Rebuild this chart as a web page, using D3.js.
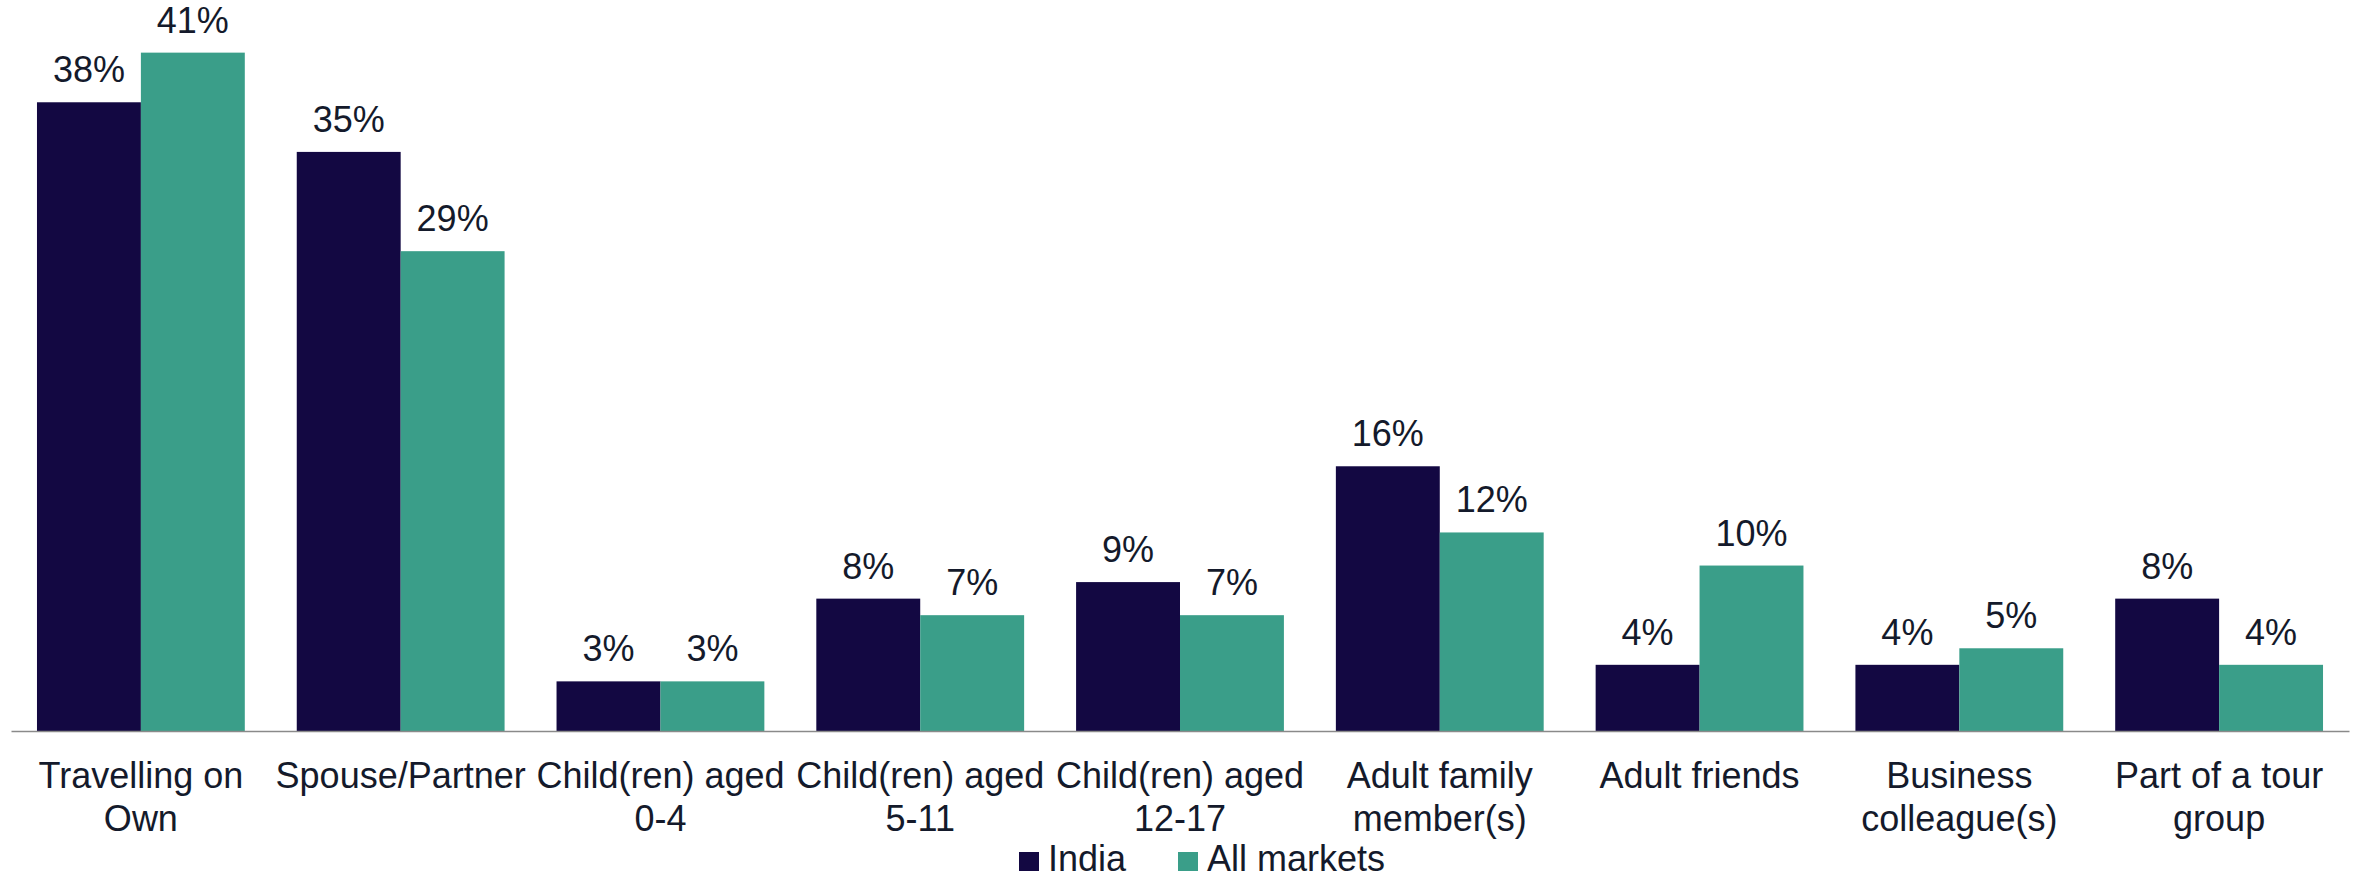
<!DOCTYPE html>
<html>
<head>
<meta charset="utf-8">
<script src="https://cdn.jsdelivr.net/npm/d3@7"></script>
<style>
  html, body { margin: 0; padding: 0; background: #ffffff; }
  svg { display: block; }
  text { font-family: "Liberation Sans", Arial, sans-serif; }
</style>
</head>
<body>
<div id="chart"></div>
<script>
// Who respondents travel with: India vs. all markets (share of respondents, %)
const categories = [
  "Travelling on\nOwn",
  "Spouse/Partner",
  "Child(ren) aged\n0-4",
  "Child(ren) aged\n5-11",
  "Child(ren) aged\n12-17",
  "Adult family\nmember(s)",
  "Adult friends",
  "Business\ncolleague(s)",
  "Part of a tour\ngroup"
];
const seriesNames = ["India", "All markets"];
const indiaValues = [38, 35, 3, 8, 9, 16, 4, 4, 8];
const allMarketsValues = [41, 29, 3, 7, 7, 12, 10, 5, 4];
const seriesColors = ["#130842", "#3a9e89"];

const W = 2359, H = 879;
const baseY = 731;
const fontSize = 36;
const textColor = "#141a2b";

const svg = d3.select("#chart").append("svg")
  .attr("width", W).attr("height", H)
  .attr("viewBox", `0 0 ${W} ${H}`);

const rows = categories.map((c, i) => ({
  category: c,
  values: [indiaValues[i], allMarketsValues[i]]
}));

const x0 = d3.scaleBand()
  .domain(categories)
  .range([11, 2349])
  .paddingInner(0.2)
  .paddingOuter(0.1);

const x1 = d3.scaleBand()
  .domain(seriesNames)
  .range([0, x0.bandwidth()])
  .padding(0);

const y = d3.scaleLinear()
  .domain([0, 44])
  .range([baseY, 3]);

// Bars and value labels
const groups = svg.append("g").selectAll("g")
  .data(rows)
  .join("g")
  .attr("transform", d => `translate(${x0(d.category)},0)`);

const cells = groups.selectAll("g")
  .data(d => d.values.map((v, k) => ({ series: seriesNames[k], value: v, k })))
  .join("g");

cells.append("rect")
  .attr("x", d => x1(d.series))
  .attr("y", d => y(d.value))
  .attr("width", x1.bandwidth())
  .attr("height", d => y(0) - y(d.value))
  .attr("fill", d => seriesColors[d.k]);

cells.append("text")
  .attr("x", d => x1(d.series) + x1.bandwidth() / 2)
  .attr("y", d => y(d.value) - 20)
  .attr("text-anchor", "middle")
  .attr("font-size", fontSize)
  .attr("fill", textColor)
  .text(d => d.value + "%");

// Category axis with wrapped labels
const axis = svg.append("g")
  .attr("transform", `translate(0,${baseY})`)
  .call(d3.axisBottom(x0).tickSize(0).tickSizeOuter(0));

axis.select(".domain")
  .attr("stroke", "#8a8a8a")
  .attr("stroke-width", 1.6);

axis.selectAll(".tick text")
  .attr("font-size", fontSize)
  .attr("font-family", '"Liberation Sans", Arial, sans-serif')
  .attr("fill", textColor)
  .attr("dy", null)
  .attr("y", null)
  .each(function(d) {
    const t = d3.select(this);
    t.text(null);
    d.split("\n").forEach((line, i) => {
      t.append("tspan")
        .attr("x", 0)
        .attr("y", 57 + i * 43)
        .text(line);
    });
  });

// Legend
const legendItems = [
  { name: seriesNames[0], color: seriesColors[0], x: 1019 },
  { name: seriesNames[1], color: seriesColors[1], x: 1178 }
];
const legend = svg.append("g");
const li = legend.selectAll("g")
  .data(legendItems)
  .join("g")
  .attr("transform", d => `translate(${d.x},852)`);
li.append("rect")
  .attr("width", 20).attr("height", 19)
  .attr("fill", d => d.color);
li.append("text")
  .attr("x", 29)
  .attr("y", 19)
  .attr("font-size", fontSize)
  .attr("fill", textColor)
  .text(d => d.name);
</script>
</body>
</html>
